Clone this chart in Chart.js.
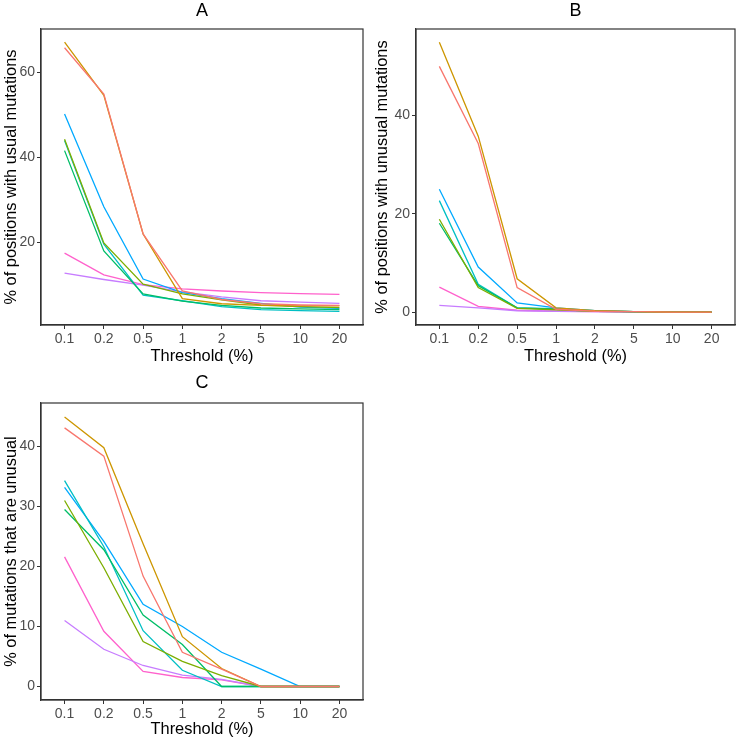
<!DOCTYPE html>
<html><head><meta charset="utf-8">
<script src="https://cdn.jsdelivr.net/npm/chart.js@4.4.1/dist/chart.umd.min.js"></script>
<style>
html,body{margin:0;padding:0;background:#fff;overflow:hidden;width:740px;height:739px;}
canvas{position:absolute;display:block;}
</style></head><body>
<canvas id="cA" width="370" height="370" style="left:0;top:0"></canvas>
<canvas id="cB" width="370" height="370" style="left:370px;top:0"></canvas>
<canvas id="cC" width="370" height="369" style="left:0;top:370px"></canvas>
<script>
// ---- data ----
const thresholds = ['0.1','0.2','0.5','1','2','5','10','20'];
const seriesColors = ['#F8766D','#CD9600','#7CAE00','#00BE67','#00BFC4','#00A9FF','#C77CFF','#FF61CC'];

// Panel A: % of positions with usual mutations
const aRed    = [65.8, 54.9, 22.0, 8.6, 6.6, 5.6, 5.3, 5.2];
const aGold   = [67.1, 54.6, 22.0, 6.8, 5.6, 5.2, 5.1, 5.1];
const aOlive  = [44.3, 19.9, 10.2, 7.9, 6.5, 5.3, 4.9, 4.7];
const aGreen  = [41.6, 18.0, 7.9, 6.2, 5.2, 4.6, 4.4, 4.2];
const aCyan   = [44.0, 19.6, 7.6, 6.3, 4.9, 4.2, 4.0, 3.8];
const aBlue   = [50.2, 28.4, 11.4, 8.2, 6.8, 5.7, 4.8, 4.5];
const aPurple = [12.8, 11.3, 10.0, 8.4, 7.2, 6.3, 6.0, 5.7];
const aPink   = [17.5, 12.4, 10.1, 9.1, 8.6, 8.2, 8.0, 7.8];
const aTicks  = [20, 40, 60];

// Panel B: % of positions with unusual mutations
const bRed    = [50.0, 34.3, 5.0, 0.6, 0.2, 0.1, 0, 0];
const bGold   = [54.9, 35.8, 6.8, 0.9, 0.3, 0.1, 0, 0];
const bOlive  = [18.9, 5.0, 0.8, 0.5, 0.2, 0.1, 0, 0];
const bGreen  = [18.1, 5.4, 0.9, 0.6, 0.2, 0.1, 0, 0];
const bCyan   = [22.7, 5.7, 0.9, 0.7, 0.3, 0.1, 0, 0];
const bBlue   = [25.0, 9.2, 1.9, 0.9, 0.3, 0.1, 0, 0];
const bPurple = [1.4, 0.9, 0.3, 0.2, 0.1, 0, 0, 0];
const bPink   = [5.1, 1.2, 0.4, 0.2, 0.1, 0, 0, 0];
const bTicks  = [0, 20, 40];

// Panel C: % of mutations that are unusual
const cRed    = [43.1, 38.4, 18.4, 5.7, 2.9, 0, 0, 0];
const cGold   = [44.9, 39.8, 23.8, 8.3, 3.0, 0, 0, 0];
const cOlive  = [31.0, 19.8, 7.5, 4.2, 1.8, 0, 0, 0];
const cGreen  = [29.5, 22.8, 11.9, 7.0, 0, 0, 0, 0];
const cCyan   = [34.3, 23.3, 9.3, 2.7, 0, 0, 0, 0];
const cBlue   = [33.2, 24.2, 13.7, 10.0, 5.7, 2.9, 0, 0];
const cPurple = [11.0, 6.2, 3.5, 1.9, 1.2, 0, 0, 0];
const cPink   = [21.6, 9.2, 2.5, 1.5, 1.1, 0, 0, 0];
const cTicks  = [0, 10, 20, 30, 40];

// ---- drawing ----
const FONT = '"Liberation Sans", Arial, Helvetica, sans-serif';
const panelPlugin = {
  id: 'panelDeco',
  afterDraw(chart, args, opts) {
    const {ctx, chartArea: a} = chart;
    ctx.save();
    ctx.strokeStyle = '#333';
    ctx.lineWidth = 1.2;
    ctx.strokeRect(a.left, a.top, a.right - a.left, a.bottom - a.top);
    ctx.fillStyle = '#000';
    ctx.font = '18px ' + FONT;
    ctx.textAlign = 'center';
    ctx.textBaseline = 'middle';
    ctx.fillText(opts.letter, (a.left + a.right) / 2, a.top - opts.letterGap);
    ctx.restore();
  }
};

function makePanel(id, letter, seriesList, yTicks, yMin, yMax, yTitle, lay) {
  const datasets = seriesList.map((vals, k) => ({
    data: vals.map((v, i) => ({x: i, y: v})),
    borderColor: seriesColors[k],
    backgroundColor: seriesColors[k],
    borderWidth: 1.3,
    pointRadius: 0,
    tension: 0,
    fill: false
  }));
  new Chart(document.getElementById(id), {
    type: 'line',
    data: {datasets},
    plugins: [panelPlugin],
    options: {
      responsive: false,
      animation: false,
      layout: {padding: {top: lay.top, right: lay.right, left: 0, bottom: 0}},
      plugins: {legend: {display: false}, tooltip: {enabled: false}, panelDeco: {letter, letterGap: lay.letterGap}},
      scales: {
        x: {
          type: 'linear', min: -0.6, max: 7.6,
          afterBuildTicks: s => { s.ticks = thresholds.map((t, i) => ({value: i})); },
          afterFit: s => { s.height = lay.xh; },
          ticks: {callback: v => thresholds[v] !== undefined ? thresholds[v] : '', autoSkip: false, maxRotation: 0,
                  color: '#4d4d4d', font: {family: FONT, size: 14}, padding: 2},
          grid: {drawOnChartArea: false, drawTicks: true, tickLength: 4, color: '#333', lineWidth: 1},
          border: {display: true, color: '#333', width: 1.2},
          title: {display: true, text: 'Threshold (%)', color: '#000', font: {family: FONT, size: 16.4},
                  padding: {top: lay.xtp, bottom: lay.xtp}}
        },
        y: {
          type: 'linear', min: yMin, max: yMax,
          afterBuildTicks: s => { s.ticks = yTicks.map(v => ({value: v})); },
          afterFit: s => { s.width = lay.yw; },
          ticks: {color: '#4d4d4d', font: {family: FONT, size: 14}, padding: 2},
          grid: {drawOnChartArea: false, drawTicks: true, tickLength: 4, color: '#333', lineWidth: 1},
          border: {display: true, color: '#333', width: 1.2},
          title: {display: true, text: yTitle, color: '#000', font: {family: FONT, size: 16.4},
                  padding: {top: lay.ytp, bottom: lay.ytp}}
        }
      }
    }
  });
}

makePanel('cA', 'A', [aRed, aGold, aOlive, aGreen, aCyan, aBlue, aPurple, aPink], aTicks, 0.6, 70.2,
  '% of positions with usual mutations', {top: 29, right: 7, yw: 41, xh: 45, xtp: 4, ytp: 2, letterGap: 18});
makePanel('cB', 'B', [bRed, bGold, bOlive, bGreen, bCyan, bBlue, bPurple, bPink], bTicks, -2.6, 57.6,
  '% of positions with unusual mutations', {top: 29, right: 5, yw: 46, xh: 45, xtp: 4, ytp: 3, letterGap: 18});
makePanel('cC', 'C', [cRed, cGold, cOlive, cGreen, cCyan, cBlue, cPurple, cPink], cTicks, -2.25, 47.25,
  '% of mutations that are unusual', {top: 33, right: 7, yw: 41, xh: 39, xtp: 0, ytp: 2, letterGap: 20});
</script>
</body></html>
